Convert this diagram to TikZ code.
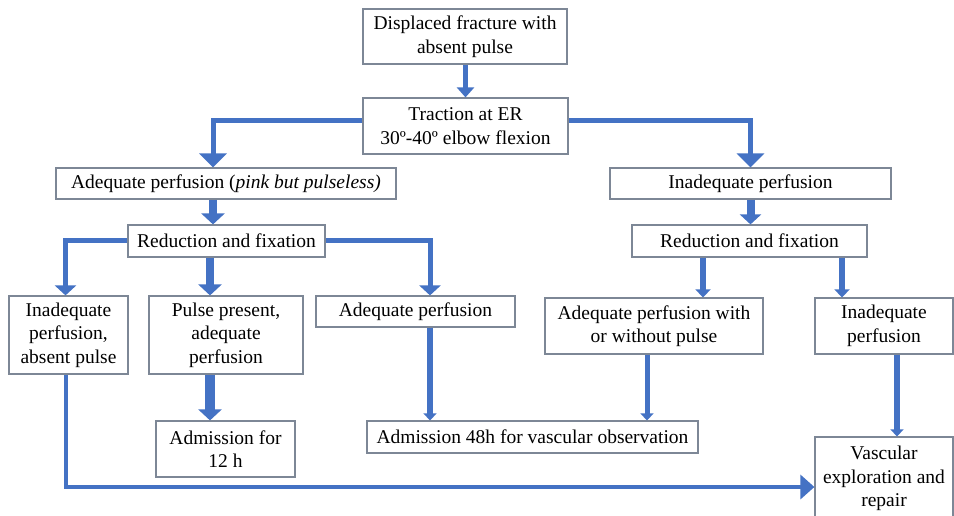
\documentclass[tikz,border=0pt]{standalone}
\usepackage{fontspec}
\setmainfont{Liberation Serif}
\usetikzlibrary{arrows.meta}
\definecolor{flow}{RGB}{68,114,196}
\definecolor{frame}{RGB}{125,135,150}
\begin{document}
\begin{tikzpicture}[x=1pt,y=-1pt,
  box/.style={draw=frame,line width=1.2pt,fill=white,inner sep=0pt,align=center,
    font=\fontsize{19.5}{23.5}\selectfont},
  conn/.style={draw=flow,line width=#1},
  headA/.style={-{Triangle[width=17pt,length=10pt]}},
  headB/.style={-{Triangle[width=27pt,length=14pt]}},
  headC/.style={-{Triangle[width=23pt,length=11pt]}},
  headD/.style={-{Triangle[width=21pt,length=10pt]}},
  headE/.style={-{Triangle[width=15pt,length=8pt]}},
  headF/.style={-{Triangle[width=13pt,length=7pt]}},
  headG/.style={-{Triangle[width=24pt,length=14pt]}},
]
\clip (0,0) rectangle (954,515);
\fill[white] (0,0) rectangle (954,515);

% nodes
\node[box,minimum width=204pt,minimum height=55pt] (b1) at (465,36.5) {Displaced fracture with\\absent pulse};
\node[box,minimum width=205pt,minimum height=56pt] (b2) at (465.5,126) {Traction at ER\\30º-40º elbow flexion};
\node[box,minimum width=340pt,minimum height=31pt] (b3) at (226,183.5) {Adequate perfusion (\textit{pink but pulseless)}};
\node[box,minimum width=281pt,minimum height=31pt] (b4) at (750.5,183.5) {Inadequate perfusion};
\node[box,minimum width=197pt,minimum height=32pt] (b5) at (226.5,241) {Reduction and fixation};
\node[box,minimum width=235pt,minimum height=32pt] (b6) at (749.5,241) {Reduction and fixation};
\node[box,minimum width=119pt,minimum height=78pt] (b7) at (68.5,335) {Inadequate\\perfusion,\\absent pulse};
\node[box,minimum width=154pt,minimum height=78pt] (b8) at (226,335) {Pulse present,\\adequate\\perfusion};
\node[box,minimum width=199pt,minimum height=31pt] (b9) at (415.5,311.5) {Adequate perfusion};
\node[box,minimum width=139pt,minimum height=56pt] (b10) at (225.5,449) {Admission for\\12 h};
\node[box,minimum width=331pt,minimum height=32pt] (b11) at (532.5,437) {Admission 48h for vascular observation};
\node[box,minimum width=218pt,minimum height=56pt] (b12) at (654,326) {Adequate perfusion with\\or without pulse};
\node[box,minimum width=138pt,minimum height=56pt] (b13) at (884,326) {Inadequate\\perfusion};
\node[box,minimum width=138pt,minimum height=83pt] (b14) at (884,478.5) {Vascular\\exploration and\\repair};

% connectors
\draw[conn=5pt,headA] ([xshift=0.5pt]b1.south) -- ([xshift=0.5pt]b1.south |- b2.north);
\draw[conn=5pt,headB] ([yshift=6pt]b2.west) -| ([xshift=-13pt]b3.north);
\draw[conn=5pt,headB] ([yshift=6pt]b2.east) -| (b4.north);
\draw[conn=8pt,headC] ([xshift=-13pt]b3.south) -- ([xshift=-13pt]b3.south |- b5.north);
\draw[conn=8pt,headD] (b4.south) -- (b4.south |- b6.north);
\draw[conn=5pt,headD] ([yshift=1pt]b5.west) -| ([xshift=-3pt]b7.north);
\draw[conn=5pt,headD] ([yshift=1pt]b5.east) -| ([xshift=14.5pt]b9.north);
\draw[conn=8pt,headC] ([xshift=-16pt]b8.north |- b5.south) -- ([xshift=-16pt]b8.north);
\draw[conn=6pt,headE] ([xshift=-46.5pt]b6.south) -- ([xshift=-46.5pt]b6.south |- b12.north);
\draw[conn=6pt,headE] ([xshift=92.5pt]b6.south) -- ([xshift=92.5pt]b6.south |- b13.north);
\draw[conn=10pt,headC] ([xshift=-16pt]b8.south) -- ([xshift=-16pt]b8.south |- b10.north);
\draw[conn=6pt,headF] ([xshift=14.5pt]b9.south) -- ([xshift=14.5pt]b9.south |- b11.north);
\draw[conn=5pt,headF] ([xshift=-7pt]b12.south) -- ([xshift=-7pt]b12.south |- b11.north);
\draw[conn=6pt,headF] ([xshift=13pt]b13.south) -- ([xshift=13pt]b13.south |- b14.north);
\draw[conn=4pt,headG] ([xshift=-2.5pt]b7.south) |- ([yshift=-8.5pt]b14.west);
\end{tikzpicture}
\end{document}
